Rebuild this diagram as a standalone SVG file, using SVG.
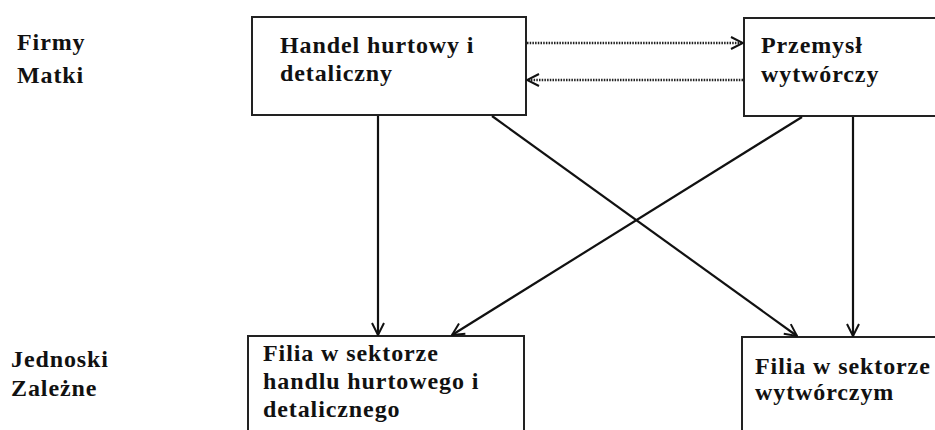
<svg xmlns="http://www.w3.org/2000/svg" width="935" height="430" viewBox="0 0 935 430">
<defs>
<marker id="ah" viewBox="0 0 14 14" refX="13" refY="7" markerWidth="14" markerHeight="14" markerUnits="userSpaceOnUse" orient="auto">
<path d="M1,1 L13,7 L1,13" fill="none" stroke="#111" stroke-width="2"/>
</marker>
</defs>
<rect width="935" height="430" fill="#fff"/>
<g id="label-firmy" fill="#111"><text style="font-family:'Liberation Serif',serif;font-weight:bold;font-size:24px;letter-spacing:0.9px" x="17" y="50">Firmy</text><text style="font-family:'Liberation Serif',serif;font-weight:bold;font-size:24px;letter-spacing:0.9px" x="17" y="83">Matki</text></g>
<g id="label-jednostki" fill="#111"><text style="font-family:'Liberation Serif',serif;font-weight:bold;font-size:24px;letter-spacing:0.9px" x="11" y="367">Jednoski</text><text style="font-family:'Liberation Serif',serif;font-weight:bold;font-size:24px;letter-spacing:0.9px" x="11" y="396">Zależne</text></g>
<g id="handel" fill="#111"><rect fill="#fff" stroke="#222" stroke-width="2" x="252" y="17" width="274" height="98"/><text style="font-family:'Liberation Serif',serif;font-weight:bold;font-size:24px;letter-spacing:0.9px" x="280" y="53">Handel hurtowy i</text><text style="font-family:'Liberation Serif',serif;font-weight:bold;font-size:24px;letter-spacing:0.9px" x="280" y="81">detaliczny</text></g>
<g id="przemysl" fill="#111"><rect fill="#fff" stroke="#222" stroke-width="2" x="744" y="18" width="200" height="98"/><text style="font-family:'Liberation Serif',serif;font-weight:bold;font-size:24px;letter-spacing:0.9px" x="761" y="53">Przemysł</text><text style="font-family:'Liberation Serif',serif;font-weight:bold;font-size:24px;letter-spacing:0.9px" x="761" y="82">wytwórczy</text></g>
<g id="filia-handel" fill="#111"><rect fill="#fff" stroke="#222" stroke-width="2" x="248" y="336" width="276" height="110"/><text style="font-family:'Liberation Serif',serif;font-weight:bold;font-size:24px;letter-spacing:0.9px" x="263" y="361">Filia w sektorze</text><text style="font-family:'Liberation Serif',serif;font-weight:bold;font-size:24px;letter-spacing:0.9px" x="263" y="389">handlu hurtowego i</text><text style="font-family:'Liberation Serif',serif;font-weight:bold;font-size:24px;letter-spacing:0.9px" x="263" y="417">detalicznego</text></g>
<g id="filia-wytw" fill="#111"><rect fill="#fff" stroke="#222" stroke-width="2" x="742" y="337" width="200" height="110"/><text style="font-family:'Liberation Serif',serif;font-weight:bold;font-size:24px;letter-spacing:0.9px" x="755" y="374">Filia w sektorze</text><text style="font-family:'Liberation Serif',serif;font-weight:bold;font-size:24px;letter-spacing:0.9px" x="755" y="400">wytwórczym</text></g>
<g id="connectors" fill="none">
<g stroke="#222" stroke-width="2.4" stroke-dasharray="1.5 1.2">
<line x1="527" y1="43" x2="743" y2="43" marker-end="url(#ah)"/>
<line x1="743" y1="80" x2="527" y2="80" marker-end="url(#ah)"/>
</g>
<g stroke="#111" stroke-width="2.2">
<line x1="378" y1="116" x2="378" y2="335" marker-end="url(#ah)"/>
<line x1="492" y1="116" x2="797" y2="336" marker-end="url(#ah)"/>
<line x1="802" y1="117" x2="452" y2="335" marker-end="url(#ah)"/>
<line x1="853" y1="117" x2="853" y2="336" marker-end="url(#ah)"/>
</g>
</g>
</svg>
